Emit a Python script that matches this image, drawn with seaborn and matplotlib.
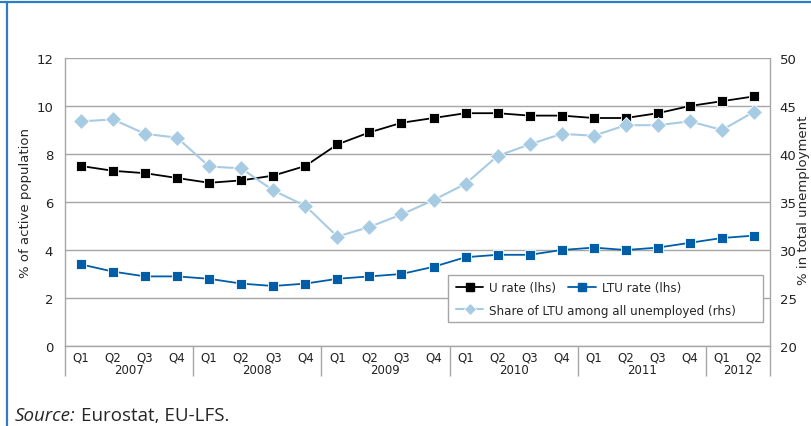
import matplotlib
matplotlib.use("Agg")
import matplotlib.pyplot as plt
from matplotlib.lines import Line2D
from matplotlib.patches import Rectangle
import numpy as np
import pandas as pd
import seaborn as sns

# Quarterly series, 2007 Q1 - 2012 Q2
years = ["2007", "2008", "2009", "2010", "2011", "2012"]
quarters_per_year = [4, 4, 4, 4, 4, 2]
quarter_labels = ["Q1", "Q2", "Q3", "Q4"] * 5 + ["Q1", "Q2"]

u_rate = [7.5, 7.3, 7.2, 7.0, 6.8, 6.9, 7.1, 7.5, 8.4, 8.9, 9.3, 9.5,
          9.7, 9.7, 9.6, 9.6, 9.5, 9.5, 9.7, 10.0, 10.2, 10.4]
ltu_rate = [3.4, 3.1, 2.9, 2.9, 2.8, 2.6, 2.5, 2.6, 2.8, 2.9, 3.0, 3.3,
            3.7, 3.8, 3.8, 4.0, 4.1, 4.0, 4.1, 4.3, 4.5, 4.6]
ltu_share = [43.4, 43.6, 42.1, 41.7, 38.7, 38.5, 36.2, 34.6, 31.4, 32.4, 33.7, 35.2,
             36.9, 39.8, 41.0, 42.1, 41.9, 43.0, 43.0, 43.4, 42.5, 44.4]

df = pd.DataFrame({
    "pos": np.arange(len(u_rate)),
    "quarter": quarter_labels,
    "u_rate": u_rate,
    "ltu_rate": ltu_rate,
    "ltu_share": ltu_share,
})

BLACK = "#000000"
BLUE = "#005EA8"
LIGHT = "#A8CBE4"
GRID = "#A6A6A6"
FRAME_BLUE = "#2E7DC2"

sns.set_style("white")
plt.rcParams["font.family"] = ["DejaVu Sans"]
NARROW = ["Liberation Sans Narrow", "DejaVu Sans"]
NOTE_FONT = ["Open Sans", "DejaVu Sans"]

fig = plt.figure(figsize=(8.12, 4.27), dpi=100)
W, H = 812, 427
ax = fig.add_axes([65 / W, (H - 347) / H, 705 / W, 288 / H])
ax2 = ax.twinx()

# Lines
sns.lineplot(data=df, x="pos", y="u_rate", ax=ax, color=BLACK, lw=1.3,
             marker="s", markersize=7.6, markeredgecolor="white",
             markeredgewidth=0.6, legend=False)
sns.lineplot(data=df, x="pos", y="ltu_rate", ax=ax, color=BLUE, lw=1.3,
             marker="s", markersize=7.6, markeredgecolor="white",
             markeredgewidth=0.6, legend=False)
sns.lineplot(data=df, x="pos", y="ltu_share", ax=ax2, color=LIGHT, lw=1.5,
             marker="D", markersize=8.2, markeredgecolor="white",
             markeredgewidth=0.6, legend=False)

n = len(df)
ax.set_xlim(-0.5, n - 0.5)
ax.set_ylim(0, 12)
ax.set_yticks(np.arange(0, 13, 2))
ax2.set_ylim(20, 50)
ax2.set_yticks(np.arange(20, 51, 5))

ax.grid(axis="y", color=GRID, lw=1)
ax.grid(axis="x", visible=False)
ax2.grid(False)

for a in (ax, ax2):
    a.spines["top"].set_visible(False)
    for s in ("left", "right", "bottom"):
        a.spines[s].set_color(GRID)
        a.spines[s].set_linewidth(1)
ax2.spines["left"].set_visible(False)
ax2.spines["bottom"].set_visible(False)
ax.spines["right"].set_visible(False)

ax.set_ylabel("% of active population", fontsize=9.5, labelpad=3)
ax.set_xlabel("")
ax2.set_ylabel("")
ax.tick_params(axis="y", length=0, pad=8.5, labelsize=9.5, colors="#222222")
ax2.tick_params(axis="y", length=0, pad=7, labelsize=9.5, colors="#222222")

# Quarter labels with short separators
ax.set_xticks(df["pos"])
ax.set_xticklabels(df["quarter"], fontsize=8.5, family=NARROW)
ax.set_xticks(np.arange(0.5, n - 1, 1), minor=True)
ax.tick_params(axis="x", which="major", length=0, pad=3.5, colors="#222222")
ax.tick_params(axis="x", which="minor", length=9.4, width=1, color=GRID,
               direction="out")

# Year labels with long separators
bounds = np.concatenate([[-0.5], np.cumsum(quarters_per_year) - 0.5])
centers = (bounds[:-1] + bounds[1:]) / 2
sec = ax.secondary_xaxis("bottom")
sec.set_xticks(bounds)
sec.set_xticklabels([""] * len(bounds))
sec.set_xticks(centers, minor=True)
sec.set_xticklabels(years, minor=True, fontsize=8.5, family=NARROW)
sec.tick_params(axis="x", which="major", length=21.6, width=1, color=GRID)
sec.tick_params(axis="x", which="minor", length=0, pad=12.5, colors="#222222")
sec.spines["bottom"].set_visible(False)

# Legend: two rows inside a single frame
frame = Rectangle((448 / W, 1 - 323 / H), 315 / W, 47 / H,
                  transform=fig.transFigure, facecolor="white",
                  edgecolor=GRID, lw=1, zorder=4)
ax2.add_patch(frame)
frame.set_clip_on(False)

h_u = Line2D([], [], color=BLACK, lw=1.3, marker="s", markersize=6)
h_ltu = Line2D([], [], color=BLUE, lw=1.3, marker="s", markersize=6)
h_sh = Line2D([], [], color=LIGHT, lw=1.5, marker="D", markersize=6.5,
              markeredgecolor="white", markeredgewidth=0.5)

leg_kw = dict(frameon=False, fontsize=8.6, handlelength=2.3, handletextpad=0.5,
              borderpad=0, borderaxespad=0, loc="center left",
              bbox_transform=fig.transFigure)
leg1 = ax2.legend([h_u, h_ltu], ["U rate (lhs)", "LTU rate (lhs)"], ncol=2,
                  columnspacing=1.0, bbox_to_anchor=(456 / W, 1 - 289 / H), **leg_kw)
leg1.set_zorder(6)
ax2.add_artist(leg1)
leg2 = ax2.legend([h_sh], ["Share of LTU among all unemployed (rhs)"],
                  bbox_to_anchor=(456 / W, 1 - 311 / H), **leg_kw)
leg2.set_zorder(6)

# Right-hand axis title
fig.text(804 / W, 1 - 200 / H, "% in total unemployment", rotation=90,
         ha="center", va="center", fontsize=9.5)

# Source note
src = fig.text(15 / W, 1 - 416 / H, "Source:", style="italic", fontsize=13.5,
               family=NOTE_FONT, va="center", ha="left")
ax.annotate("Eurostat, EU-LFS.", xy=(1, 0.5), xycoords=src,
            xytext=(3.5, 0), textcoords="offset points", fontsize=13.5,
            family=NOTE_FONT, va="center", ha="left",
            annotation_clip=False)

# Box frame lines
fig.add_artist(Line2D([0, 1], [1 - 3 / H, 1 - 3 / H], transform=fig.transFigure,
                      color=FRAME_BLUE, lw=1.6))
fig.add_artist(Line2D([7 / W, 7 / W], [0, 1 - 3 / H], transform=fig.transFigure,
                      color=FRAME_BLUE, lw=1.6))

fig.savefig("out.png", dpi=100)
